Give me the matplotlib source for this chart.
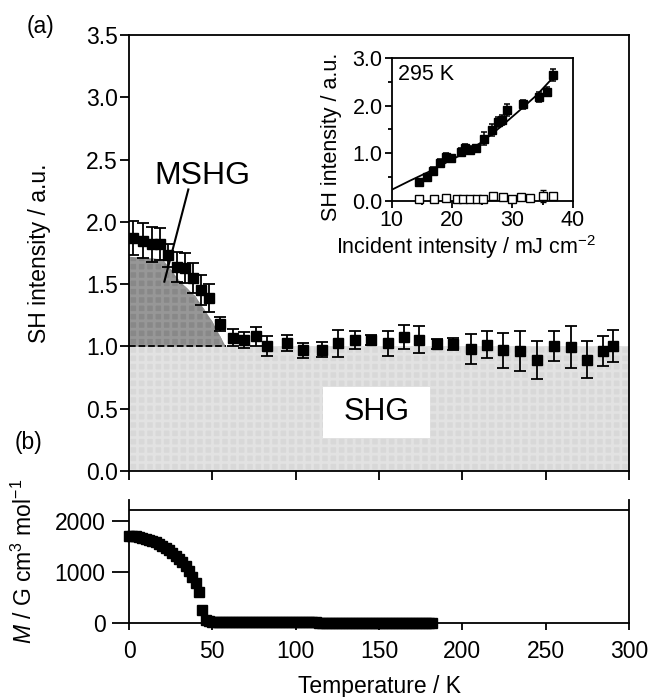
import numpy as np
import matplotlib as mpl
mpl.use('Agg')
import matplotlib.pyplot as plt
from matplotlib.patches import Rectangle

plt.rcParams['font.family'] = ['Liberation Sans', 'DejaVu Sans']
plt.rcParams['mathtext.fontset'] = 'custom'
plt.rcParams['mathtext.rm'] = 'Liberation Sans'
plt.rcParams['mathtext.it'] = 'Liberation Sans:italic'
plt.rcParams['hatch.linewidth'] = 2.0

# (a) SH intensity vs temperature
temp_sh = [2.6, 8.2, 13.6, 18.6, 23.6, 29.0, 33.6, 38.2, 43.2, 48.2, 54.6, 62.2,
           69.0, 76.2, 83.0, 94.6, 104.6, 115.6, 125.6, 135.6, 145.2, 155.6, 165.2,
           174.2, 184.6, 194.6, 205.2, 214.6, 224.2, 234.6, 245.0, 255.2, 265.0,
           274.6, 284.6, 290.2]
sh_val = [1.87, 1.85, 1.82, 1.82, 1.73, 1.64, 1.63, 1.55, 1.45, 1.39, 1.18, 1.07,
          1.05, 1.08, 1.00, 1.03, 0.97, 0.975, 1.025, 1.05, 1.055, 1.025, 1.075,
          1.055, 1.02, 1.02, 0.98, 1.015, 0.97, 0.965, 0.89, 1.005, 0.995, 0.895,
          0.965, 1.005]
sh_err = [0.14, 0.14, 0.14, 0.13, 0.09, 0.12, 0.12, 0.12, 0.12, 0.11, 0.06, 0.07,
          0.065, 0.075, 0.08, 0.065, 0.06, 0.06, 0.11, 0.07, 0.04, 0.10, 0.094,
          0.11, 0.04, 0.05, 0.12, 0.11, 0.14, 0.16, 0.15, 0.12, 0.17, 0.15, 0.12,
          0.13]

# upper edge of the shaded MSHG region
mshg_T = [0, 20, 25, 30, 40, 50, 58]
mshg_v = [1.72, 1.70, 1.62, 1.53, 1.40, 1.20, 1.0]

# inset: SH intensity vs incident intensity at 295 K
inc_on = [14.6, 15.9, 16.9, 18.0, 19.0, 19.9, 21.5, 22.1, 23.0, 24.0, 25.3, 26.7,
          27.7, 28.2, 29.1, 31.7, 34.4, 35.8, 36.8]
sh_on = [0.40, 0.50, 0.63, 0.80, 0.93, 0.89, 1.03, 1.10, 1.07, 1.10, 1.31, 1.49,
         1.66, 1.70, 1.91, 2.03, 2.18, 2.30, 2.65]
err_on = [0.06, 0.06, 0.07, 0.08, 0.08, 0.07, 0.08, 0.09, 0.08, 0.08, 0.13, 0.13,
          0.10, 0.10, 0.12, 0.09, 0.10, 0.09, 0.12]
inc_off = [14.6, 17.0, 19.0, 20.8, 21.8, 22.9, 24.1, 25.1, 26.8, 28.5, 30.0, 31.4,
           32.9, 35.0, 36.7]
sh_off = [0.03, 0.03, 0.05, 0.03, 0.03, 0.04, 0.04, 0.04, 0.09, 0.08, 0.04, 0.08,
          0.06, 0.10, 0.09]
err_off = [0.02, 0.02, 0.03, 0.02, 0.02, 0.02, 0.02, 0.02, 0.04, 0.04, 0.02, 0.04,
           0.03, 0.12, 0.05]
fit_inc = [10, 13, 16, 19, 22, 25, 28, 31, 34, 37]
fit_sh = [0.23, 0.42, 0.60, 0.80, 1.00, 1.24, 1.55, 1.88, 2.22, 2.63]

# (b) magnetization vs temperature
temp_m = list(range(0, 184, 2))
mag = [1710, 1705, 1700, 1690, 1675, 1655, 1635, 1610, 1580, 1550, 1510, 1470,
       1425, 1375, 1320, 1260, 1190, 1110, 1020, 910, 780, 600, 260, 65, 35, 25,
       22, 20, 19, 18, 18, 17, 17, 16, 16, 15, 15, 15, 14, 14, 14, 13, 13, 13,
       12, 12, 12, 12, 11, 11, 11, 11, 10, 10, 10, 10, 10, 9, 9, 9, 9, 9, 9, 8,
       8, 8, 8, 8, 8, 8, 7, 7, 7, 7, 7, 7, 7, 7, 6, 6, 6, 6, 6, 6, 6, 6, 6, 5,
       5, 5, 5, 5]

fig = plt.figure(figsize=(6.49, 6.97), dpi=100)
ax = fig.add_axes([129/649, 1-471/697, 500/649, 436/697])
axb = fig.add_axes([129/649, 1-623/697, 500/649, 123/697])
axi = fig.add_axes([391.7/649, 1-200.7/697, 181/649, 142.4/697])

lw = 1.3
fs = 16.5

# ---- panel (a)
ax.fill_between([0, 300], 0, 1, facecolor='#d8d8d8', edgecolor='#e2e2e2',
                hatch='++', linewidth=0, zorder=0)
ax.fill_between(mshg_T, 1, mshg_v, facecolor='#888888', edgecolor='#979797',
                hatch='++', linewidth=0, zorder=0)
ax.plot([0, 58], [1, 1], '--', color='k', lw=lw, zorder=1)
ax.errorbar(temp_sh, sh_val, yerr=sh_err, fmt='s', color='k', ms=6.5, capsize=4,
            elinewidth=lw, capthick=lw, zorder=3)
ax.add_patch(Rectangle((116.4, 0.265), 64.2, 0.41, facecolor='white',
                       edgecolor='none', zorder=2))
ax.text(148.5, 0.47, 'SHG', fontsize=22, ha='center', va='center', zorder=4)
ax.text(43.9, 2.37, 'MSHG', fontsize=23, ha='center', va='center')
ax.plot([35.6, 21.2], [2.26, 1.52], color='k', lw=1.5, zorder=4)

ax.set_xlim(0, 300)
ax.set_ylim(0, 3.5)
ax.set_xticks(np.arange(0, 301, 50))
ax.set_xticklabels([])
ax.set_yticks(np.arange(0, 3.51, 0.5))
ax.set_yticklabels(['%.1f' % v for v in np.arange(0, 3.51, 0.5)])
ax.tick_params(axis='both', direction='out', length=6.5, width=lw, labelsize=fs, pad=1.5)
ax.set_ylabel('SH intensity / a.u.', fontsize=fs, va='center')
ax.yaxis.set_label_coords(-0.178, 0.5)
for s in ax.spines.values():
    s.set_linewidth(lw)

# ---- inset
axi.plot(fit_inc, fit_sh, color='k', lw=lw, zorder=2)
axi.errorbar(inc_on, sh_on, yerr=err_on, fmt='s', color='k', ms=5.5, capsize=2.5,
             elinewidth=1.1, capthick=1.1, zorder=3)
axi.errorbar(inc_off, sh_off, yerr=err_off, fmt='s', color='k', mfc='white', ms=5.5,
             capsize=2.5, elinewidth=1.0, capthick=1.0, zorder=3, clip_on=False)
axi.text(11.0, 2.65, '295 K', fontsize=15.5, ha='left', va='center')
axi.set_xlim(10, 40)
axi.set_ylim(0, 3)
axi.set_xticks([10, 20, 30, 40])
axi.set_xticks([15, 25, 35], minor=True)
axi.set_yticks([0, 1, 2, 3])
axi.set_yticklabels(['0.0', '1.0', '2.0', '3.0'])
axi.set_yticks([0.5, 1.5, 2.5], minor=True)
axi.tick_params(axis='both', which='major', direction='out', length=5, width=lw,
                labelsize=15.5, pad=1.5)
axi.tick_params(axis='both', which='minor', direction='out', length=3, width=lw)
axi.set_xlabel('Incident intensity / mJ cm$^{-2}$', fontsize=15.5)
axi.xaxis.set_label_coords((466 - 391.7)/181, -0.23)
axi.set_ylabel('SH intensity / a.u.', fontsize=15.5, va='center')
axi.yaxis.set_label_coords((331 - 391.7)/181, 0.45)
for s in axi.spines.values():
    s.set_linewidth(lw)

# ---- panel (b)
axb.plot(temp_m, mag, 's', color='k', ms=6.5, clip_on=False, zorder=3)
axb.axhline(2216, color='k', lw=lw)
axb.set_xlim(0, 300)
axb.set_ylim(0, 2412)
axb.set_xticks(np.arange(0, 301, 50))
axb.set_yticks([0, 1000, 2000])
axb.tick_params(axis='x', direction='out', length=5, width=lw, labelsize=fs, pad=7)
axb.tick_params(axis='y', direction='out', length=12, width=lw, labelsize=fs, pad=5)
axb.spines['top'].set_visible(False)
for s in axb.spines.values():
    s.set_linewidth(lw)
axb.set_xlabel('Temperature / K', fontsize=fs, va='center')
axb.xaxis.set_label_coords(0.5, -(686 - 623)/123)
axb.set_ylabel('$\\it{M}$ / G cm$^{3}$ mol$^{-1}$', fontsize=fs, va='center')
axb.yaxis.set_label_coords((24 - 129)/500, 0.5)

fig.text(40/649, 1 - 27/697, '(a)', fontsize=fs, ha='center', va='center')
fig.text(28/649, 1 - 443/697, '(b)', fontsize=fs, ha='center', va='center')

fig.savefig('out.png', dpi=100)
